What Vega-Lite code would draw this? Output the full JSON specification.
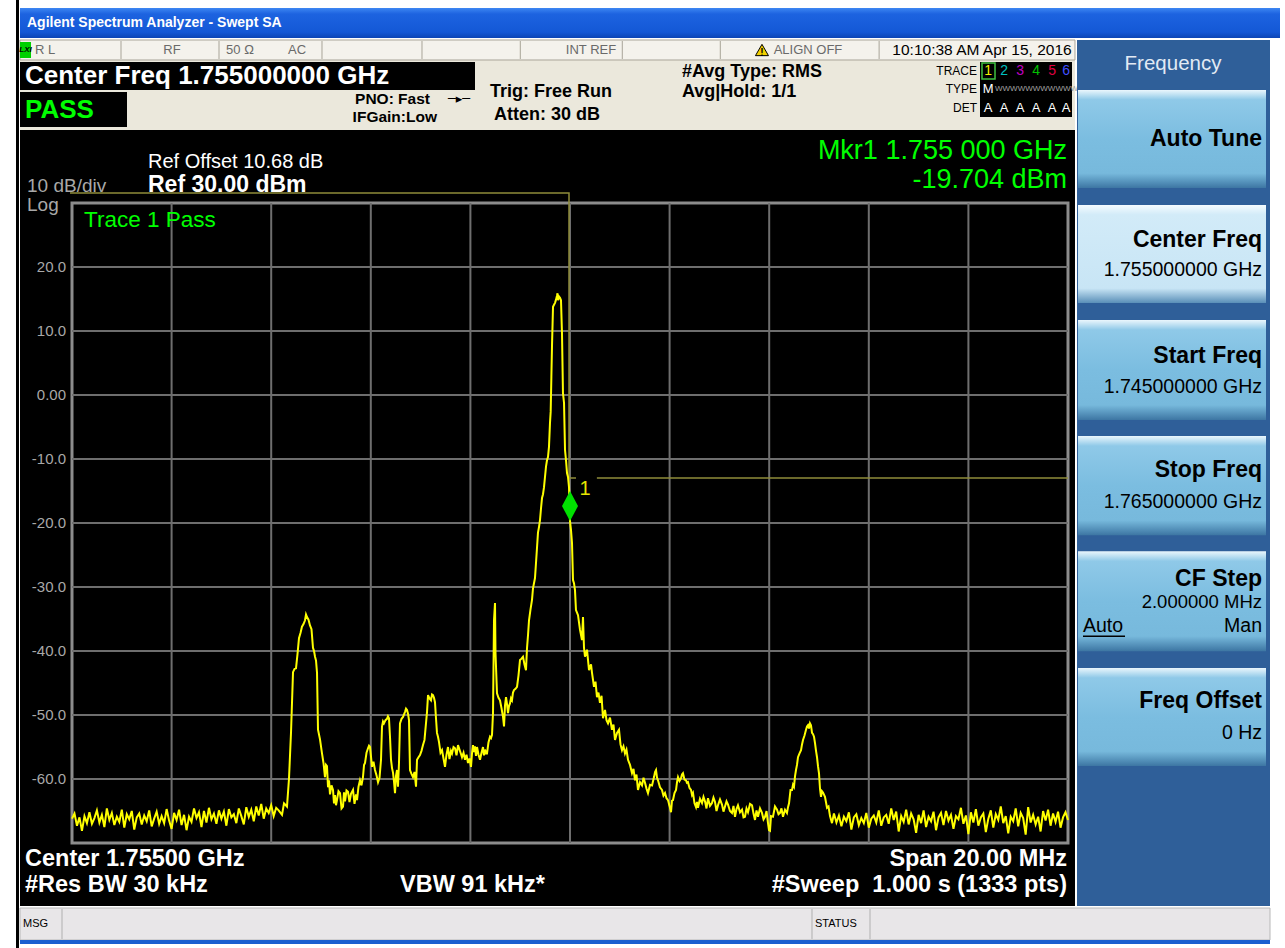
{
"$schema":"https://vega.github.io/schema/vega-lite/v6.json",
"width":1285,"height":948,"autosize":{"type":"none"},"padding":0,
"background":"#ffffff",
"config":{"view":{"stroke":null},"text":{"font":"Liberation Sans"}},
"encoding":{
 "x":{"field":"f","type":"quantitative","scale":{"domain":[1743.5542,1769.3574],"nice":false,"zero":false},"axis":null},
 "y":{"field":"p","type":"quantitative","scale":{"domain":[-86.4063,61.7188],"nice":false,"zero":false},"axis":null}
},
"layer":[
{"data":{"values":[{"f":1743.9558,"f2":1769.257,"p":60.4688,"p2":55.7813}]},
 "mark":{"type":"rect","color":{"gradient":"linear","x1":0,"y1":0,"x2":0,"y2":1,"stops":[{"offset":0,"color":"#3d86f2"},{"offset":0.2,"color":"#1d63e0"},{"offset":0.8,"color":"#1458d6"},{"offset":1,"color":"#0c45b5"}]}},
 "encoding":{"x2":{"field":"f2"},"y2":{"field":"p2"}}},
{"data":{"values":[{"f":1744.0964,"p":58.125,"t":"Agilent Spectrum Analyzer - Swept SA"}]},
 "mark":{"type":"text","fontSize":14,"fontWeight":"bold","color":"#ffffff","align":"left","baseline":"middle"},"encoding":{"text":{"field":"t"}}},
{"data":{"values":[{"f":1743.9558,"f2":1765.1405,"p":55.4688,"p2":41.4063}]},
 "mark":{"type":"rect","color":"#ebe8dc"},"encoding":{"x2":{"field":"f2"},"y2":{"field":"p2"}}},
{"data":{"values":[{"f":1743.9558,"f2":1765.1405,"p":55.4688,"p2":52.3438}]},
 "mark":{"type":"rect","fill":"#f4f2ec","stroke":"#a8a498","strokeWidth":1},"encoding":{"x2":{"field":"f2"},"y2":{"field":"p2"}}},
{"data":{"values":[
 {"f":1743.8755,"f2":1743.9357,"p":61.7188,"p2":-86.4063},
 {"f":1743.9558,"f2":1765.1405,"p":41.4063,"p2":-79.8438},
 {"f":1743.9558,"f2":1753.0924,"p":52.0313,"p2":47.6563},
 {"f":1743.9558,"f2":1746.1044,"p":47.3438,"p2":41.875},
 {"f":1763.2329,"f2":1765.0803,"p":52.0313,"p2":43.4375}]},
 "mark":{"type":"rect","color":"#000000"},"encoding":{"x2":{"field":"f2"},"y2":{"field":"p2"}}},
{"data":{"values":[{"f":1743.9558,"f2":1744.177,"p":55.1563,"p2":52.6563}]},
 "mark":{"type":"rect","color":"#00d000"},"encoding":{"x2":{"field":"f2"},"y2":{"field":"p2"}}},
{"data":{"values":[{"f":1744.066,"p":53.9063,"t":"LXI"}]},
 "mark":{"type":"text","fontSize":8,"fontWeight":"bold","fontStyle":"italic","color":"#000000","align":"center","baseline":"middle"},"encoding":{"text":{"field":"t"}}},
{"data":{"values":[
 {"f":1745.984,"p":55.3125,"p2":52.5},{"f":1747.952,"p":55.3125,"p2":52.5},{"f":1750.020,"p":55.3125,"p2":52.5},{"f":1752.028,"p":55.3125,"p2":52.5},
 {"f":1754.002,"p":55.3125,"p2":52.5},{"f":1756.050,"p":55.3125,"p2":52.5},{"f":1758.018,"p":55.3125,"p2":52.5},{"f":1761.207,"p":55.3125,"p2":52.5}]},
 "mark":{"type":"rule","color":"#a8a498","strokeWidth":1},"encoding":{"y2":{"field":"p2"}}},
{"data":{"values":[{"f":1744.458,"p":53.9063,"t":"R L"},{"f":1747.008,"p":53.9063,"t":"RF"},{"f":1748.3735,"p":53.9063,"t":"50 Ω"},{"f":1749.5181,"p":53.9063,"t":"AC"},{"f":1755.4217,"p":53.9063,"t":"INT REF"},{"f":1759.779,"p":53.9063,"t":"ALIGN OFF"}]},
 "mark":{"type":"text","fontSize":13,"color":"#6a6a6a","align":"center","baseline":"middle"},"encoding":{"text":{"field":"t"}}},
{"data":{"values":[{"f":1758.855,"p":53.906}]},
 "mark":{"type":"point","shape":"triangle-up","size":170,"filled":true,"fill":"#f2d000","stroke":"#000000","strokeWidth":1,"opacity":1}},
{"data":{"values":[{"f":1758.855,"p":53.5,"t":"!"}]},
 "mark":{"type":"text","fontSize":10,"fontWeight":"bold","color":"#000000","align":"center","baseline":"middle"},"encoding":{"text":{"field":"t"}}},
{"data":{"values":[{"f":1763.273,"p":53.9063,"t":"10:10:38 AM Apr 15, 2016"}]},
 "mark":{"type":"text","fontSize":15.5,"color":"#000000","align":"center","baseline":"middle"},"encoding":{"text":{"field":"t"}}},
{"data":{"values":[{"f":1744.0562,"p":49.8438,"t":"Center Freq 1.755000000 GHz"}]},
 "mark":{"type":"text","fontSize":26,"fontWeight":"bold","color":"#ffffff","align":"left","baseline":"middle"},"encoding":{"text":{"field":"t"}}},
{"data":{"values":[{"f":1744.0562,"p":44.5313,"t":"PASS"}]},
 "mark":{"type":"text","fontSize":26,"fontWeight":"bold","color":"#00ff00","align":"left","baseline":"middle"},"encoding":{"text":{"field":"t"}}},
{"data":{"values":[
 {"f":1752.1887,"p":46.25,"t":"PNO: Fast"},
 {"f":1752.3293,"p":43.4375,"t":"IFGain:Low"}]},
 "mark":{"type":"text","fontSize":15.5,"fontWeight":"bold","color":"#000000","align":"right","baseline":"middle"},"encoding":{"text":{"field":"t"}}},
{"data":{"values":[
 {"f":1753.3936,"p":47.3438,"t":"Trig: Free Run"},
 {"f":1753.4739,"p":43.75,"t":"Atten: 30 dB"},
 {"f":1757.249,"p":50.4688,"t":"#Avg Type: RMS"},
 {"f":1757.249,"p":47.3438,"t":"Avg|Hold: 1/1"}]},
 "mark":{"type":"text","fontSize":18,"fontWeight":"bold","color":"#000000","align":"left","baseline":"middle"},"encoding":{"text":{"field":"t"}}},
{"data":{"values":[{"f":1752.771,"p":46.25,"t":"─▸─"}]},
 "mark":{"type":"text","fontSize":13,"font":"DejaVu Sans","color":"#000000","align":"center","baseline":"middle"},"encoding":{"text":{"field":"t"}}},
{"data":{"values":[{"f":1763.1727,"p":50.625,"t":"TRACE"},{"f":1763.1727,"p":47.8125,"t":"TYPE"},{"f":1763.1727,"p":44.9063,"t":"DET"}]},
 "mark":{"type":"text","fontSize":12,"color":"#000000","align":"right","baseline":"middle"},"encoding":{"text":{"field":"t"}}},
{"data":{"values":[{"f":1763.273,"f2":1763.5343,"p":51.875,"p2":49.375}]},
 "mark":{"type":"rect","fill":"#000000","stroke":"#40c040","strokeWidth":1.5},"encoding":{"x2":{"field":"f2"},"y2":{"field":"p2"}}},
{"data":{"values":[{"f":1763.3947,"p":50.625,"t":"1"},{"f":1763.716,"p":50.625,"t":"2"},{"f":1764.0373,"p":50.625,"t":"3"},{"f":1764.3586,"p":50.625,"t":"4"},{"f":1764.6798,"p":50.625,"t":"5"},{"f":1764.961,"p":50.625,"t":"6"}]},
 "mark":{"type":"text","fontSize":14,"align":"center","baseline":"middle"},
 "encoding":{"text":{"field":"t"},"color":{"field":"t","type":"nominal","legend":null,"scale":{"domain":["1","2","3","4","5","6"],"range":["#f0f000","#00c0c0","#c000c0","#00c000","#e00040","#4050ff"]}}}},
{"data":{"values":[{"f":1763.3947,"p":47.8125,"t":"M"}]},
 "mark":{"type":"text","fontSize":13,"color":"#ffffff","align":"center","baseline":"middle"},"encoding":{"text":{"field":"t"}}},
{"data":{"values":[{"f":1763.5343,"p":47.8125,"t":"WWWWWWWWWWW"}]},
 "mark":{"type":"text","fontSize":8,"color":"#a0a0a0","align":"left","baseline":"middle"},"encoding":{"text":{"field":"t"}}},
{"data":{"values":[{"f":1763.3947,"p":44.9063,"t":"A"},{"f":1763.716,"p":44.9063,"t":"A"},{"f":1764.0373,"p":44.9063,"t":"A"},{"f":1764.3586,"p":44.9063,"t":"A"},{"f":1764.6798,"p":44.9063,"t":"A"},{"f":1764.961,"p":44.9063,"t":"A"}]},
 "mark":{"type":"text","fontSize":13,"color":"#ffffff","align":"center","baseline":"middle"},"encoding":{"text":{"field":"t"}}},
{"data":{"values":[{"f":1765.1807,"f2":1769.0562,"p":55.4688,"p2":-79.8438}]},
 "mark":{"type":"rect","color":"#2f5f99"},"encoding":{"x2":{"field":"f2"},"y2":{"field":"p2"}}},
{"data":{"values":[
 {"f":1765.2008,"f2":1768.9759,"p":47.6563,"p2":32.3438},
 {"f":1765.2008,"f2":1768.9759,"p":11.7188,"p2":-3.9063},
 {"f":1765.2008,"f2":1768.9759,"p":-6.4063,"p2":-21.9063},
 {"f":1765.2008,"f2":1768.9759,"p":-24.4063,"p2":-40.0313},
 {"f":1765.2008,"f2":1768.9759,"p":-42.6563,"p2":-57.9688}]},
 "mark":{"type":"rect","color":{"gradient":"linear","x1":0,"y1":0,"x2":0,"y2":1,"stops":[{"offset":0,"color":"#eaf6fc"},{"offset":0.1,"color":"#8fc9e8"},{"offset":0.5,"color":"#7bbde0"},{"offset":0.85,"color":"#77b9dc"},{"offset":1,"color":"#3d76a3"}]}},
 "encoding":{"x2":{"field":"f2"},"y2":{"field":"p2"}}},
{"data":{"values":[{"f":1765.2008,"f2":1768.9759,"p":29.6875,"p2":14.375}]},
 "mark":{"type":"rect","color":{"gradient":"linear","x1":0,"y1":0,"x2":0,"y2":1,"stops":[{"offset":0,"color":"#f4fbff"},{"offset":0.1,"color":"#d2ebf8"},{"offset":0.85,"color":"#c8e5f5"},{"offset":1,"color":"#5a8fb8"}]}},
 "encoding":{"x2":{"field":"f2"},"y2":{"field":"p2"}}},
{"data":{"values":[{"f":1767.1084,"p":51.7188,"t":"Frequency"}]},
 "mark":{"type":"text","fontSize":20.5,"color":"#e2eaf4","align":"center","baseline":"middle"},"encoding":{"text":{"field":"t"}}},
{"data":{"values":[{"f":1768.8956,"p":40.0,"t":"Auto Tune"},{"f":1768.8956,"p":24.2188,"t":"Center Freq"},{"f":1768.8956,"p":6.0938,"t":"Start Freq"},{"f":1768.8956,"p":-11.7188,"t":"Stop Freq"},{"f":1768.8956,"p":-28.75,"t":"CF Step"},{"f":1768.8956,"p":-47.8125,"t":"Freq Offset"}]},
 "mark":{"type":"text","fontSize":23,"fontWeight":"bold","color":"#000000","align":"right","baseline":"middle"},"encoding":{"text":{"field":"t"}}},
{"data":{"values":[{"f":1768.8956,"p":19.4688,"t":"1.755000000 GHz"},{"f":1768.8956,"p":1.25,"t":"1.745000000 GHz"},{"f":1768.8956,"p":-16.7188,"t":"1.765000000 GHz"},{"f":1768.8956,"p":-36.125,"t":"Man"},{"f":1768.8956,"p":-52.8125,"t":"0 Hz"}]},
 "mark":{"type":"text","fontSize":19.5,"color":"#000000","align":"right","baseline":"middle"},"encoding":{"text":{"field":"t"}}},
{"data":{"values":[{"f":1768.8956,"p":-32.3438,"t":"2.000000 MHz"}]},
 "mark":{"type":"text","fontSize":18.5,"color":"#000000","align":"right","baseline":"middle"},"encoding":{"text":{"field":"t"}}},
{"data":{"values":[{"f":1765.3012,"p":-36.125,"t":"Auto"}]},
 "mark":{"type":"text","fontSize":19.5,"color":"#000000","align":"left","baseline":"middle"},"encoding":{"text":{"field":"t"}}},
{"data":{"values":[{"f":1765.3012,"f2":1766.145,"p":-37.7}]},
 "mark":{"type":"rule","color":"#000000","strokeWidth":1.5},"encoding":{"x2":{"field":"f2"}}},
{"data":{"values":[{"f":1743.9558,"f2":1769.0562,"p":-80.1563,"p2":-85.1563}]},
 "mark":{"type":"rect","fill":"#e8e6e8","stroke":"#b8b8b8","strokeWidth":1},"encoding":{"x2":{"field":"f2"},"y2":{"field":"p2"}}},
{"data":{"values":[{"f":1743.9558,"f2":1769.0562,"p":-85.1563,"p2":-85.78}]},
 "mark":{"type":"rect","color":"#1a5fd0"},"encoding":{"x2":{"field":"f2"},"y2":{"field":"p2"}}},
{"data":{"values":[{"f":1744.7992,"p":-80.3125,"p2":-85.0},{"f":1759.8594,"p":-80.3125,"p2":-85.0},{"f":1761.0241,"p":-80.3125,"p2":-85.0}]},
 "mark":{"type":"rule","color":"#b0b0b0","strokeWidth":1},"encoding":{"y2":{"field":"p2"}}},
{"data":{"values":[{"f":1744.016,"p":-82.6563,"t":"MSG"},{"f":1759.9197,"p":-82.6563,"t":"STATUS"}]},
 "mark":{"type":"text","fontSize":11,"color":"#000000","align":"left","baseline":"middle"},"encoding":{"text":{"field":"t"}}},
{"data":{"values":[{"f":1745,"f2":1765,"p":30,"p2":-70}]},
 "mark":{"type":"rect","fill":"#000000","stroke":"#8c8c8c","strokeWidth":3},"encoding":{"x2":{"field":"f2"},"y2":{"field":"p2"}}},
{"data":{"values":[{"f":1747,"p":30,"p2":-70},{"f":1749,"p":30,"p2":-70},{"f":1751,"p":30,"p2":-70},{"f":1753,"p":30,"p2":-70},{"f":1755,"p":30,"p2":-70},{"f":1757,"p":30,"p2":-70},{"f":1759,"p":30,"p2":-70},{"f":1761,"p":30,"p2":-70},{"f":1763,"p":30,"p2":-70}]},
 "mark":{"type":"rule","color":"#6e6e6e","strokeWidth":2},"encoding":{"y2":{"field":"p2"}}},
{"data":{"values":[{"f":1745,"f2":1765,"p":20},{"f":1745,"f2":1765,"p":10},{"f":1745,"f2":1765,"p":0},{"f":1745,"f2":1765,"p":-10},{"f":1745,"f2":1765,"p":-20},{"f":1745,"f2":1765,"p":-30},{"f":1745,"f2":1765,"p":-40},{"f":1745,"f2":1765,"p":-50},{"f":1745,"f2":1765,"p":-60}]},
 "mark":{"type":"rule","color":"#6e6e6e","strokeWidth":2},"encoding":{"x2":{"field":"f2"}}},
{"data":{"values":[{"f":1744.8795,"p":20,"t":"20.0"},{"f":1744.8795,"p":10,"t":"10.0"},{"f":1744.8795,"p":0,"t":"0.00"},{"f":1744.8795,"p":-10,"t":"-10.0"},{"f":1744.8795,"p":-20,"t":"-20.0"},{"f":1744.8795,"p":-30,"t":"-30.0"},{"f":1744.8795,"p":-40,"t":"-40.0"},{"f":1744.8795,"p":-50,"t":"-50.0"},{"f":1744.8795,"p":-60,"t":"-60.0"}]},
 "mark":{"type":"text","fontSize":15,"color":"#a8a8a8","align":"right","baseline":"middle"},"encoding":{"text":{"field":"t"}}},
{"data":{"values":[{"f":1746.5261,"p":36.4063,"t":"Ref Offset 10.68 dB"}]},
 "mark":{"type":"text","fontSize":20,"color":"#ffffff","align":"left","baseline":"middle"},"encoding":{"text":{"field":"t"}}},
{"data":{"values":[{"f":1746.5261,"p":32.8125,"t":"Ref 30.00 dBm"}]},
 "mark":{"type":"text","fontSize":23,"fontWeight":"bold","color":"#ffffff","align":"left","baseline":"middle"},"encoding":{"text":{"field":"t"}}},
{"data":{"values":[{"f":1744.0964,"p":32.6563,"t":"10 dB/div"},{"f":1744.0964,"p":29.6875,"t":"Log"}]},
 "mark":{"type":"text","fontSize":19,"color":"#a8a8a8","align":"left","baseline":"middle"},"encoding":{"text":{"field":"t"}}},
{"data":{"values":[{"f":1745.2409,"p":27.3438,"t":"Trace 1 Pass"}]},
 "mark":{"type":"text","fontSize":22.5,"color":"#00ff00","align":"left","baseline":"middle"},"encoding":{"text":{"field":"t"}}},
{"data":{"values":[{"f":1764.9799,"p":38.125,"t":"Mkr1 1.755 000 GHz"},{"f":1764.9799,"p":33.5938,"t":"-19.704 dBm"}]},
 "mark":{"type":"text","fontSize":27,"color":"#00ff00","align":"right","baseline":"middle"},"encoding":{"text":{"field":"t"}}},
{"data":{"values":[{"f":1744.0562,"p":-72.5,"t":"Center 1.75500 GHz"},{"f":1744.0562,"p":-76.5625,"t":"#Res BW 30 kHz"},{"f":1751.5863,"p":-76.5625,"t":"VBW 91 kHz*"}]},
 "mark":{"type":"text","fontSize":23.5,"fontWeight":"bold","color":"#ffffff","align":"left","baseline":"middle"},"encoding":{"text":{"field":"t"}}},
{"data":{"values":[{"f":1764.9799,"p":-72.5,"t":"Span 20.00 MHz"},{"f":1764.9799,"p":-76.5625,"t":"#Sweep\u00a0\u00a01.000 s (1333 pts)"}]},
 "mark":{"type":"text","fontSize":23.5,"fontWeight":"bold","color":"#ffffff","align":"right","baseline":"middle"},"encoding":{"text":{"field":"t"}}},
{"data":{"values":[
 {"s":"a","i":0,"f":1744.96,"p":31.563},{"s":"a","i":1,"f":1754.98,"p":31.563},{"s":"a","i":2,"f":1754.98,"p":-12.97},{"s":"a","i":3,"f":1755.12,"p":-12.97},
 {"s":"b","i":0,"f":1755.54,"p":-12.97},{"s":"b","i":1,"f":1765.0,"p":-12.97}]},
 "mark":{"type":"line","color":"#8f8c3a","strokeWidth":1.5},"encoding":{"detail":{"field":"s"},"order":{"field":"i"}}},
{"data":{"values":[
{"f":1745.00,"p":-66.2},{"f":1745.05,"p":-65.4},{"f":1745.10,"p":-67.3},{"f":1745.15,"p":-66.0},{"f":1745.20,"p":-68.1},{"f":1745.25,"p":-65.8},{"f":1745.30,"p":-66.9},{"f":1745.35,"p":-65.2},{"f":1745.40,"p":-67.0},{"f":1745.45,"p":-66.1},
{"f":1745.50,"p":-64.9},{"f":1745.55,"p":-66.8},{"f":1745.60,"p":-65.6},{"f":1745.65,"p":-67.5},{"f":1745.70,"p":-64.6},{"f":1745.75,"p":-66.4},{"f":1745.80,"p":-65.3},{"f":1745.85,"p":-67.2},{"f":1745.90,"p":-65.9},{"f":1745.95,"p":-66.7},
{"f":1746.00,"p":-64.8},{"f":1746.05,"p":-67.6},{"f":1746.10,"p":-65.5},{"f":1746.15,"p":-66.3},{"f":1746.20,"p":-65.0},{"f":1746.25,"p":-67.9},{"f":1746.30,"p":-66.0},{"f":1746.35,"p":-65.4},{"f":1746.40,"p":-67.1},{"f":1746.45,"p":-65.7},
{"f":1746.50,"p":-66.6},{"f":1746.55,"p":-64.9},{"f":1746.60,"p":-67.4},{"f":1746.65,"p":-66.2},{"f":1746.70,"p":-65.1},{"f":1746.75,"p":-67.0},{"f":1746.80,"p":-65.8},{"f":1746.85,"p":-66.9},{"f":1746.90,"p":-64.7},{"f":1746.95,"p":-66.5},
{"f":1747.00,"p":-67.8},{"f":1747.05,"p":-65.3},{"f":1747.10,"p":-66.4},{"f":1747.15,"p":-64.8},{"f":1747.20,"p":-67.2},{"f":1747.25,"p":-65.6},{"f":1747.30,"p":-68.0},{"f":1747.35,"p":-65.9},{"f":1747.40,"p":-66.7},{"f":1747.45,"p":-64.6},
{"f":1747.50,"p":-66.1},{"f":1747.55,"p":-65.2},{"f":1747.60,"p":-67.5},{"f":1747.65,"p":-65.0},{"f":1747.70,"p":-66.8},{"f":1747.75,"p":-64.5},{"f":1747.80,"p":-66.3},{"f":1747.85,"p":-65.4},{"f":1747.90,"p":-67.0},{"f":1747.95,"p":-64.9},
{"f":1748.00,"p":-66.2},{"f":1748.05,"p":-65.1},{"f":1748.10,"p":-67.3},{"f":1748.15,"p":-64.7},{"f":1748.20,"p":-66.0},{"f":1748.25,"p":-65.5},{"f":1748.30,"p":-66.9},{"f":1748.35,"p":-64.6},{"f":1748.40,"p":-65.8},{"f":1748.45,"p":-67.1},
{"f":1748.50,"p":-64.4},{"f":1748.55,"p":-65.9},{"f":1748.60,"p":-64.8},{"f":1748.65,"p":-66.6},{"f":1748.70,"p":-64.3},{"f":1748.75,"p":-65.7},{"f":1748.80,"p":-63.9},{"f":1748.85,"p":-66.2},{"f":1748.90,"p":-64.6},{"f":1748.95,"p":-65.3},
{"f":1749.00,"p":-64.1},{"f":1749.05,"p":-65.8},{"f":1749.10,"p":-64.5},{"f":1749.15,"p":-64.9},{"f":1749.217,"p":-65.6},{"f":1749.257,"p":-63.8},{"f":1749.317,"p":-64.3},{"f":1749.357,"p":-60.0},{"f":1749.398,"p":-52.7},{"f":1749.438,"p":-43.3},
{"f":1749.468,"p":-42.8},{"f":1749.498,"p":-42.7},{"f":1749.528,"p":-40.5},{"f":1749.558,"p":-38.0},{"f":1749.588,"p":-37.2},{"f":1749.618,"p":-36.2},{"f":1749.649,"p":-35.8},{"f":1749.679,"p":-35.2},{"f":1749.699,"p":-34.3},{"f":1749.719,"p":-34.7},
{"f":1749.749,"p":-35.1},{"f":1749.779,"p":-36.0},{"f":1749.809,"p":-36.6},{"f":1749.839,"p":-39.5},{"f":1749.860,"p":-40.0},{"f":1749.880,"p":-40.9},{"f":1749.900,"p":-41.5},{"f":1749.920,"p":-43.4},{"f":1749.940,"p":-52.3},{"f":1749.980,"p":-53.8},
{"f":1750.020,"p":-56.0},{"f":1750.050,"p":-57.5},{"f":1750.080,"p":-59.7},{"f":1750.100,"p":-57.8},{"f":1750.120,"p":-58.0},{"f":1750.141,"p":-61.3},{"f":1750.161,"p":-60.2},{"f":1750.181,"p":-62.4},{"f":1750.211,"p":-61.0},{"f":1750.241,"p":-61.7},
{"f":1750.261,"p":-63.8},{"f":1750.281,"p":-62.5},{"f":1750.301,"p":-64.1},{"f":1750.321,"p":-63.3},{"f":1750.351,"p":-61.9},{"f":1750.382,"p":-62.2},{"f":1750.412,"p":-64.6},{"f":1750.442,"p":-64.3},{"f":1750.462,"p":-62.1},{"f":1750.482,"p":-63.5},
{"f":1750.512,"p":-61.8},{"f":1750.542,"p":-62.0},{"f":1750.572,"p":-63.6},{"f":1750.602,"p":-62.3},{"f":1750.643,"p":-61.7},{"f":1750.673,"p":-63.9},{"f":1750.703,"p":-62.4},{"f":1750.723,"p":-63.3},{"f":1750.753,"p":-61.2},{"f":1750.783,"p":-60.2},
{"f":1750.813,"p":-61.0},{"f":1750.843,"p":-59.7},{"f":1750.864,"p":-57.8},{"f":1750.884,"p":-57.5},{"f":1750.914,"p":-55.9},{"f":1750.944,"p":-55.2},{"f":1750.964,"p":-54.8},{"f":1750.984,"p":-55.0},{"f":1751.004,"p":-56.5},{"f":1751.024,"p":-58.1},
{"f":1751.054,"p":-57.3},{"f":1751.084,"p":-58.6},{"f":1751.114,"p":-59.4},{"f":1751.145,"p":-60.5},{"f":1751.175,"p":-59.8},{"f":1751.205,"p":-57.0},{"f":1751.225,"p":-51.8},{"f":1751.245,"p":-51.0},{"f":1751.265,"p":-51.3},{"f":1751.295,"p":-50.8},
{"f":1751.325,"p":-50.6},{"f":1751.345,"p":-50.2},{"f":1751.365,"p":-50.5},{"f":1751.386,"p":-53.5},{"f":1751.406,"p":-57.0},{"f":1751.426,"p":-58.3},{"f":1751.446,"p":-59.0},{"f":1751.466,"p":-60.4},{"f":1751.486,"p":-62.2},{"f":1751.506,"p":-59.5},
{"f":1751.526,"p":-58.6},{"f":1751.546,"p":-61.2},{"f":1751.566,"p":-57.5},{"f":1751.586,"p":-51.3},{"f":1751.617,"p":-50.6},{"f":1751.647,"p":-50.3},{"f":1751.667,"p":-49.9},{"f":1751.687,"p":-49.5},{"f":1751.707,"p":-49.0},{"f":1751.727,"p":-49.2},
{"f":1751.747,"p":-49.8},{"f":1751.767,"p":-50.8},{"f":1751.787,"p":-58.6},{"f":1751.817,"p":-59.2},{"f":1751.847,"p":-59.7},{"f":1751.878,"p":-58.9},{"f":1751.908,"p":-61.2},{"f":1751.928,"p":-57.0},{"f":1751.958,"p":-56.6},{"f":1751.988,"p":-56.25},
{"f":1752.018,"p":-55.6},{"f":1752.048,"p":-54.7},{"f":1752.078,"p":-53.9},{"f":1752.108,"p":-51.3},{"f":1752.129,"p":-49.5},{"f":1752.149,"p":-46.9},{"f":1752.179,"p":-47.4},{"f":1752.209,"p":-47.7},{"f":1752.229,"p":-46.8},{"f":1752.249,"p":-46.9},
{"f":1752.269,"p":-47.3},{"f":1752.289,"p":-48.0},{"f":1752.309,"p":-50.5},{"f":1752.329,"p":-52.8},{"f":1752.349,"p":-53.4},{"f":1752.369,"p":-54.2},{"f":1752.400,"p":-55.9},{"f":1752.430,"p":-55.5},{"f":1752.460,"p":-56.8},{"f":1752.490,"p":-58.1},
{"f":1752.520,"p":-56.2},{"f":1752.550,"p":-55.0},{"f":1752.580,"p":-56.9},{"f":1752.610,"p":-55.6},{"f":1752.631,"p":-56.0},{"f":1752.661,"p":-55.0},{"f":1752.691,"p":-55.2},{"f":1752.721,"p":-56.3},{"f":1752.751,"p":-54.7},{"f":1752.781,"p":-55.4},
{"f":1752.811,"p":-56.1},{"f":1752.831,"p":-56.6},{"f":1752.862,"p":-55.9},{"f":1752.892,"p":-57.0},{"f":1752.922,"p":-56.2},{"f":1752.952,"p":-57.5},{"f":1752.982,"p":-56.8},{"f":1753.012,"p":-58.1},{"f":1753.032,"p":-56.0},{"f":1753.052,"p":-54.7},
{"f":1753.072,"p":-55.8},{"f":1753.092,"p":-54.9},{"f":1753.112,"p":-56.4},{"f":1753.133,"p":-55.0},{"f":1753.163,"p":-56.2},{"f":1753.193,"p":-57.0},{"f":1753.223,"p":-55.9},{"f":1753.253,"p":-55.0},{"f":1753.273,"p":-56.3},{"f":1753.293,"p":-55.4},
{"f":1753.313,"p":-56.0},{"f":1753.333,"p":-56.0},{"f":1753.363,"p":-54.3},{"f":1753.394,"p":-53.4},{"f":1753.414,"p":-53.6},{"f":1753.434,"p":-53.1},{"f":1753.454,"p":-49.7},{"f":1753.474,"p":-35.2},{"f":1753.494,"p":-32.5},{"f":1753.504,"p":-40.3},
{"f":1753.534,"p":-46.6},{"f":1753.564,"p":-47.3},{"f":1753.594,"p":-47.7},{"f":1753.624,"p":-48.9},{"f":1753.655,"p":-50.3},{"f":1753.675,"p":-51.8},{"f":1753.695,"p":-48.5},{"f":1753.715,"p":-47.2},{"f":1753.735,"p":-48.3},{"f":1753.755,"p":-49.7},
{"f":1753.775,"p":-48.6},{"f":1753.795,"p":-48.2},{"f":1753.815,"p":-47.4},{"f":1753.835,"p":-47.7},{"f":1753.855,"p":-46.5},{"f":1753.876,"p":-46.1},{"f":1753.906,"p":-45.9},{"f":1753.936,"p":-45.6},{"f":1753.966,"p":-43.8},{"f":1753.996,"p":-41.4},
{"f":1754.026,"p":-41.2},{"f":1754.056,"p":-40.9},{"f":1754.086,"p":-42.1},{"f":1754.116,"p":-43.0},{"f":1754.137,"p":-39.5},{"f":1754.157,"p":-37.5},{"f":1754.177,"p":-35.2},{"f":1754.207,"p":-33.5},{"f":1754.237,"p":-32.0},{"f":1754.257,"p":-30.2},
{"f":1754.297,"p":-28.6},{"f":1754.337,"p":-23.9},{"f":1754.357,"p":-21.5},{"f":1754.378,"p":-20.6},{"f":1754.398,"p":-19.5},{"f":1754.418,"p":-17.7},{"f":1754.438,"p":-16.1},{"f":1754.458,"p":-15.5},{"f":1754.478,"p":-14.4},{"f":1754.518,"p":-11.2},
{"f":1754.538,"p":-10.2},{"f":1754.558,"p":-9.7},{"f":1754.578,"p":-8.1},{"f":1754.598,"p":-4.4},{"f":1754.612,"p":-2.6},{"f":1754.626,"p":2.8},{"f":1754.639,"p":7.8},{"f":1754.659,"p":13.8},{"f":1754.679,"p":14.1},{"f":1754.699,"p":14.4},
{"f":1754.719,"p":14.9},{"f":1754.739,"p":15.5},{"f":1754.749,"p":15.9},{"f":1754.759,"p":14.8},{"f":1754.779,"p":15.4},{"f":1754.799,"p":15.2},{"f":1754.819,"p":14.8},{"f":1754.839,"p":9.7},{"f":1754.859,"p":0.3},{"f":1754.880,"p":-1.25},
{"f":1754.900,"p":-8.6},{"f":1754.920,"p":-10.2},{"f":1754.940,"p":-12.2},{"f":1754.960,"p":-12.8},{"f":1754.980,"p":-14.4},{"f":1755.000,"p":-19.7},{"f":1755.020,"p":-21.1},{"f":1755.040,"p":-23.1},{"f":1755.060,"p":-28.9},{"f":1755.080,"p":-29.4},
{"f":1755.100,"p":-30.5},{"f":1755.120,"p":-33.6},{"f":1755.161,"p":-34.4},{"f":1755.201,"p":-36.7},{"f":1755.241,"p":-38.3},{"f":1755.261,"p":-34.7},{"f":1755.281,"p":-39.5},{"f":1755.301,"p":-40.9},{"f":1755.341,"p":-39.8},{"f":1755.382,"p":-43.0},
{"f":1755.422,"p":-42.1},{"f":1755.442,"p":-43.4},{"f":1755.482,"p":-45.6},{"f":1755.512,"p":-44.8},{"f":1755.542,"p":-47.2},{"f":1755.572,"p":-46.5},{"f":1755.602,"p":-48.1},{"f":1755.633,"p":-47.0},{"f":1755.663,"p":-50.5},{"f":1755.703,"p":-49.2},
{"f":1755.733,"p":-50.8},{"f":1755.763,"p":-51.3},{"f":1755.803,"p":-50.4},{"f":1755.843,"p":-52.3},{"f":1755.873,"p":-51.5},{"f":1755.904,"p":-53.9},{"f":1755.944,"p":-52.8},{"f":1755.984,"p":-52.3},{"f":1756.014,"p":-54.6},{"f":1756.044,"p":-55.5},
{"f":1756.074,"p":-54.9},{"f":1756.104,"p":-56.0},{"f":1756.134,"p":-55.4},{"f":1756.165,"p":-57.0},{"f":1756.205,"p":-57.8},{"f":1756.245,"p":-59.1},{"f":1756.275,"p":-58.4},{"f":1756.305,"p":-60.2},{"f":1756.335,"p":-59.3},{"f":1756.365,"p":-61.7},
{"f":1756.405,"p":-60.5},{"f":1756.446,"p":-61.0},{"f":1756.476,"p":-59.8},{"f":1756.506,"p":-60.6},{"f":1756.536,"p":-61.5},{"f":1756.566,"p":-62.2},{"f":1756.607,"p":-60.9},{"f":1756.647,"p":-61.0},{"f":1756.687,"p":-59.7},{"f":1756.707,"p":-58.9},
{"f":1756.727,"p":-58.6},{"f":1756.747,"p":-59.8},{"f":1756.767,"p":-60.2},{"f":1756.807,"p":-61.3},{"f":1756.847,"p":-61.7},{"f":1756.877,"p":-62.6},{"f":1756.908,"p":-62.2},{"f":1756.938,"p":-63.0},{"f":1756.968,"p":-63.3},{"f":1756.998,"p":-64.2},
{"f":1757.028,"p":-65.2},{"f":1757.048,"p":-63.4},{"f":1757.068,"p":-63.3},{"f":1757.098,"p":-62.2},{"f":1757.129,"p":-61.7},{"f":1757.149,"p":-60.5},{"f":1757.169,"p":-59.7},{"f":1757.199,"p":-60.3},{"f":1757.229,"p":-59.9},{"f":1757.249,"p":-59.3},
{"f":1757.269,"p":-59.1},{"f":1757.299,"p":-60.1},{"f":1757.329,"p":-60.2},{"f":1757.349,"p":-60.6},{"f":1757.369,"p":-60.5},{"f":1757.400,"p":-61.4},{"f":1757.430,"p":-61.7},{"f":1757.450,"p":-62.5},{"f":1757.470,"p":-62.2},{"f":1757.500,"p":-63.8},
{"f":1757.530,"p":-64.4},{"f":1757.550,"p":-63.6},{"f":1757.570,"p":-64.5},{"f":1757.610,"p":-63.1},{"f":1757.651,"p":-63.75},{"f":1757.681,"p":-62.8},{"f":1757.711,"p":-63.5},{"f":1757.741,"p":-64.6},{"f":1757.771,"p":-63.0},{"f":1757.811,"p":-64.2},
{"f":1757.851,"p":-63.75},{"f":1757.881,"p":-62.9},{"f":1757.912,"p":-63.6},{"f":1757.942,"p":-65.0},{"f":1757.972,"p":-64.1},{"f":1758.012,"p":-63.2},{"f":1758.052,"p":-64.0},{"f":1758.082,"p":-65.1},{"f":1758.112,"p":-64.3},{"f":1758.143,"p":-63.5},
{"f":1758.173,"p":-64.0},{"f":1758.213,"p":-65.0},{"f":1758.253,"p":-65.3},{"f":1758.283,"p":-64.2},{"f":1758.313,"p":-65.9},{"f":1758.343,"p":-64.7},{"f":1758.373,"p":-64.1},{"f":1758.414,"p":-65.2},{"f":1758.454,"p":-64.8},{"f":1758.484,"p":-66.0},
{"f":1758.514,"p":-65.9},{"f":1758.544,"p":-64.6},{"f":1758.574,"p":-65.2},{"f":1758.615,"p":-63.9},{"f":1758.655,"p":-64.1},{"f":1758.685,"p":-65.4},{"f":1758.715,"p":-66.4},{"f":1758.745,"p":-64.9},{"f":1758.775,"p":-65.9},{"f":1758.815,"p":-64.6},
{"f":1758.855,"p":-65.3},{"f":1758.886,"p":-66.3},{"f":1758.916,"p":-65.9},{"f":1758.946,"p":-65.0},{"f":1758.976,"p":-66.9},{"f":1758.996,"p":-68.0},{"f":1759.016,"p":-68.1},{"f":1759.036,"p":-65.8},{"f":1759.076,"p":-65.9},{"f":1759.116,"p":-64.3},
{"f":1759.157,"p":-64.8},{"f":1759.187,"p":-65.5},{"f":1759.217,"p":-65.3},{"f":1759.247,"p":-64.6},{"f":1759.277,"p":-65.9},{"f":1759.317,"p":-64.8},{"f":1759.357,"p":-65.3},{"f":1759.378,"p":-64.4},{"f":1759.398,"p":-63.8},{"f":1759.428,"p":-61.7},
{"f":1759.458,"p":-61.7},{"f":1759.478,"p":-60.9},{"f":1759.498,"p":-61.2},{"f":1759.518,"p":-59.6},{"f":1759.538,"p":-58.6},{"f":1759.558,"p":-57.8},{"f":1759.578,"p":-56.6},{"f":1759.609,"p":-56.0},{"f":1759.639,"p":-55.5},{"f":1759.659,"p":-54.6},
{"f":1759.679,"p":-53.9},{"f":1759.709,"p":-53.2},{"f":1759.739,"p":-52.3},{"f":1759.759,"p":-51.8},{"f":1759.779,"p":-51.6},{"f":1759.799,"p":-52.1},{"f":1759.819,"p":-51.3},{"f":1759.839,"p":-51.6},{"f":1759.860,"p":-52.8},{"f":1759.880,"p":-53.0},
{"f":1759.900,"p":-53.4},{"f":1759.920,"p":-54.4},{"f":1759.940,"p":-55.6},{"f":1759.960,"p":-56.6},{"f":1759.980,"p":-58.0},{"f":1760.000,"p":-59.1},{"f":1760.020,"p":-61.5},{"f":1760.040,"p":-62.8},{"f":1760.060,"p":-61.9},{"f":1760.080,"p":-62.1},
{"f":1760.120,"p":-62.8},{"f":1760.161,"p":-64.5},{"f":1760.191,"p":-64.3},{"f":1760.221,"p":-65.8},{"f":1760.261,"p":-66.9},
{"f":1760.30,"p":-65.4},{"f":1760.35,"p":-66.8},{"f":1760.40,"p":-65.7},{"f":1760.45,"p":-67.4},{"f":1760.50,"p":-65.9},{"f":1760.55,"p":-66.6},{"f":1760.60,"p":-65.2},{"f":1760.65,"p":-67.9},{"f":1760.70,"p":-66.0},{"f":1760.75,"p":-65.5},
{"f":1760.80,"p":-67.2},{"f":1760.85,"p":-66.1},{"f":1760.90,"p":-66.9},{"f":1760.95,"p":-65.3},{"f":1761.00,"p":-67.6},{"f":1761.05,"p":-66.2},{"f":1761.10,"p":-65.7},{"f":1761.15,"p":-66.8},{"f":1761.20,"p":-64.9},{"f":1761.25,"p":-67.3},
{"f":1761.30,"p":-66.0},{"f":1761.35,"p":-65.6},{"f":1761.40,"p":-67.0},{"f":1761.45,"p":-64.6},{"f":1761.50,"p":-66.4},{"f":1761.55,"p":-65.1},{"f":1761.60,"p":-68.2},{"f":1761.65,"p":-65.8},{"f":1761.70,"p":-66.7},{"f":1761.75,"p":-64.8},
{"f":1761.80,"p":-67.1},{"f":1761.85,"p":-65.4},{"f":1761.90,"p":-66.3},{"f":1761.95,"p":-68.4},{"f":1762.00,"p":-65.6},{"f":1762.05,"p":-66.9},{"f":1762.10,"p":-64.9},{"f":1762.15,"p":-67.5},{"f":1762.20,"p":-65.9},{"f":1762.25,"p":-66.6},
{"f":1762.30,"p":-65.1},{"f":1762.35,"p":-68.0},{"f":1762.40,"p":-66.0},{"f":1762.45,"p":-65.3},{"f":1762.50,"p":-67.2},{"f":1762.55,"p":-65.0},{"f":1762.60,"p":-66.5},{"f":1762.65,"p":-65.6},{"f":1762.70,"p":-67.8},{"f":1762.75,"p":-65.8},
{"f":1762.80,"p":-66.3},{"f":1762.85,"p":-64.5},{"f":1762.90,"p":-67.0},{"f":1762.95,"p":-65.7},{"f":1763.00,"p":-68.6},{"f":1763.05,"p":-65.2},{"f":1763.10,"p":-66.8},{"f":1763.15,"p":-64.7},{"f":1763.20,"p":-67.3},{"f":1763.25,"p":-66.0},
{"f":1763.30,"p":-65.4},{"f":1763.35,"p":-68.3},{"f":1763.40,"p":-66.2},{"f":1763.45,"p":-64.9},{"f":1763.50,"p":-67.6},{"f":1763.55,"p":-65.5},{"f":1763.60,"p":-66.4},{"f":1763.65,"p":-64.3},{"f":1763.70,"p":-66.9},{"f":1763.75,"p":-65.8},
{"f":1763.80,"p":-68.5},{"f":1763.85,"p":-65.9},{"f":1763.90,"p":-66.6},{"f":1763.95,"p":-64.6},{"f":1764.00,"p":-67.4},{"f":1764.05,"p":-65.3},{"f":1764.10,"p":-66.1},{"f":1764.15,"p":-68.7},{"f":1764.20,"p":-64.4},{"f":1764.25,"p":-66.8},
{"f":1764.30,"p":-65.6},{"f":1764.35,"p":-67.1},{"f":1764.40,"p":-65.9},{"f":1764.45,"p":-68.2},{"f":1764.50,"p":-65.0},{"f":1764.55,"p":-66.5},{"f":1764.60,"p":-64.8},{"f":1764.65,"p":-67.3},{"f":1764.70,"p":-65.4},{"f":1764.75,"p":-66.7},
{"f":1764.80,"p":-65.1},{"f":1764.85,"p":-67.6},{"f":1764.90,"p":-66.0},{"f":1764.95,"p":-65.2},{"f":1765.00,"p":-66.4}
]},
 "mark":{"type":"line","color":"#ffff00","strokeWidth":2}},
{"data":{"values":[{"f":1755.0,"p":-19.704}]},
 "mark":{"type":"point","shape":"M0,-1.875L0.5,-0.9375L0,0L-0.5,-0.9375Z","size":1024,"filled":true,"color":"#00e000","opacity":1}},
{"data":{"values":[{"f":1755.3012,"p":-14.686,"t":"1"}]},
 "mark":{"type":"text","fontSize":20,"color":"#e6e600","align":"center","baseline":"middle"},"encoding":{"text":{"field":"t"}}}
]
}
